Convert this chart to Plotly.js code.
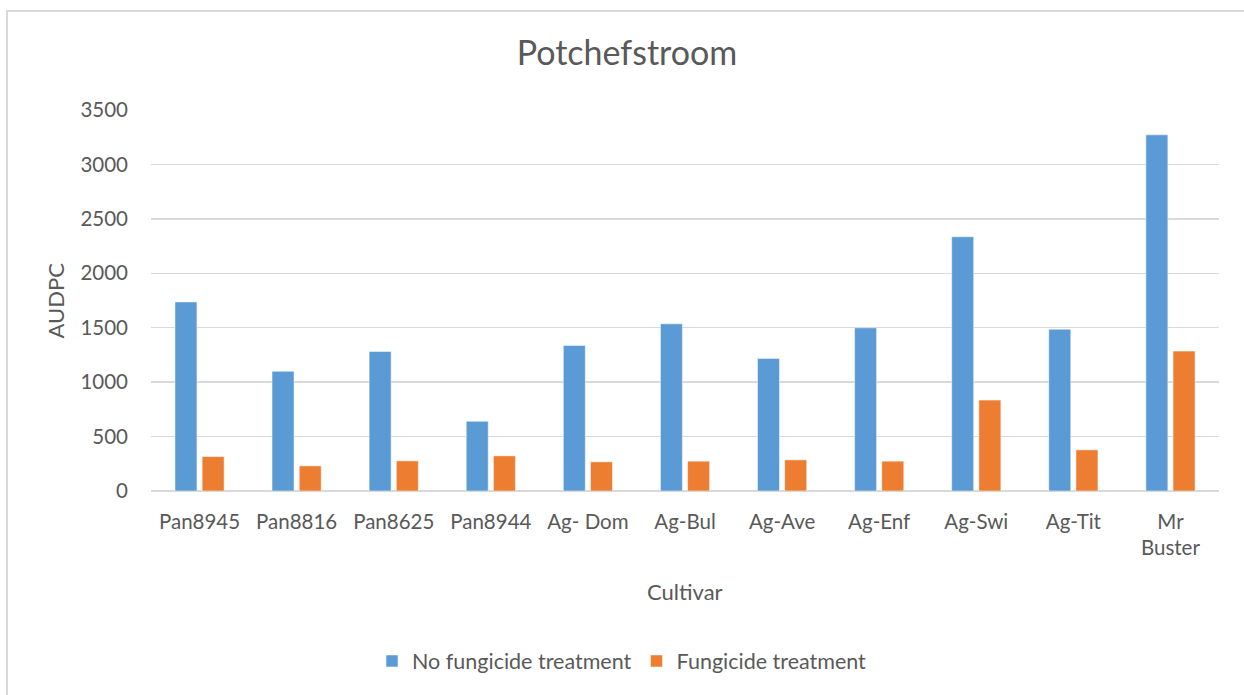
<!DOCTYPE html>
<html>
<head>
<meta charset="utf-8">
<script src="https://cdn.plot.ly/plotly-3.0.1.min.js"></script>
<style>
  html, body { margin: 0; padding: 0; background: #fff; overflow: hidden; }
  #chart { position: absolute; left: 0; top: 0; width: 1244px; height: 695px; }
  #frame { position: absolute; left: 6px; top: 10px; width: 1300px; height: 800px;
           border-left: 2px solid #d9d9d9; border-top: 2px solid #d9d9d9; pointer-events: none; }
</style>
</head>
<body>
<div id="chart"></div>
<div id="frame"></div>
<script>
const cultivars = ["Pan8945", "Pan8816", "Pan8625", "Pan8944", "Ag- Dom", "Ag-Bul", "Ag-Ave", "Ag-Enf", "Ag-Swi", "Ag-Tit", "Mr<br>Buster"];
const noFungicide = [1737, 1100, 1282, 640, 1337, 1536, 1218, 1499, 2336, 1486, 3272];
const fungicide = [316, 231, 277, 323, 268, 274, 286, 274, 835, 378, 1285];
const yTicks = [0, 500, 1000, 1500, 2000, 2500, 3000, 3500];

const FONT = "Lato, 'Open Sans', sans-serif";
const TXT = "#595959";

const traces = [
  { type: "bar", name: "No fungicide treatment", x: cultivars, y: noFungicide,
    marker: { color: "#5B9BD5", line: { color: "rgba(255,255,255,0.5)", width: 1 } } },
  { type: "bar", name: "Fungicide treatment", x: cultivars, y: fungicide,
    marker: { color: "#ED7D31", line: { color: "rgba(255,255,255,0.5)", width: 1 } } }
];

const layout = {
  width: 1244, height: 695,
  margin: { l: 151, r: 25, t: 110, b: 204 },
  paper_bgcolor: "rgba(0,0,0,0)", plot_bgcolor: "rgba(0,0,0,0)",
  font: { family: FONT, color: TXT, size: 20 },
  title: { text: "Potchefstroom", font: { family: FONT, size: 34, color: TXT },
           xref: "container", x: 0.504, xanchor: "center",
           yref: "container", y: 1 - 53 / 695, yanchor: "middle" },
  barmode: "group", bargap: 0.44, bargroupgap: 0.19,
  xaxis: { type: "category", showgrid: false, showline: false, ticks: "",
           ticklabelstandoff: 16,
           tickfont: { family: FONT, size: 20.5, color: TXT }, automargin: false },
  yaxis: { range: [0, 3500], tickvals: yTicks, ticktext: yTicks.map(String),
           showgrid: true, gridcolor: "#d9d9d9", gridwidth: 1.5,
           zeroline: true, zerolinecolor: "#d9d9d9", zerolinewidth: 1.5,
           showline: false, ticks: "", ticklabelstandoff: 22,
           tickfont: { family: FONT, size: 20.5, color: TXT }, automargin: false },
  showlegend: true,
  legend: { orientation: "h", xref: "container", yref: "container",
            x: 0.5, xanchor: "center", y: 1 - 661 / 695, yanchor: "middle",
            font: { family: FONT, size: 21.5, color: TXT }, traceorder: "normal" },
  annotations: [
    { text: "AUDPC", xref: "paper", yref: "paper", x: 0, y: 0.5, xshift: -96,
      textangle: -90, showarrow: false, font: { family: FONT, size: 22, color: TXT },
      xanchor: "center", yanchor: "middle" },
    { text: "Cultivar", xref: "paper", yref: "paper", x: 0.5, y: 0, yshift: -100,
      showarrow: false, font: { family: FONT, size: 22, color: TXT },
      xanchor: "center", yanchor: "middle" }
  ]
};

Plotly.newPlot("chart", traces, layout, { displayModeBar: false, staticPlot: true });
</script>
</body>
</html>
